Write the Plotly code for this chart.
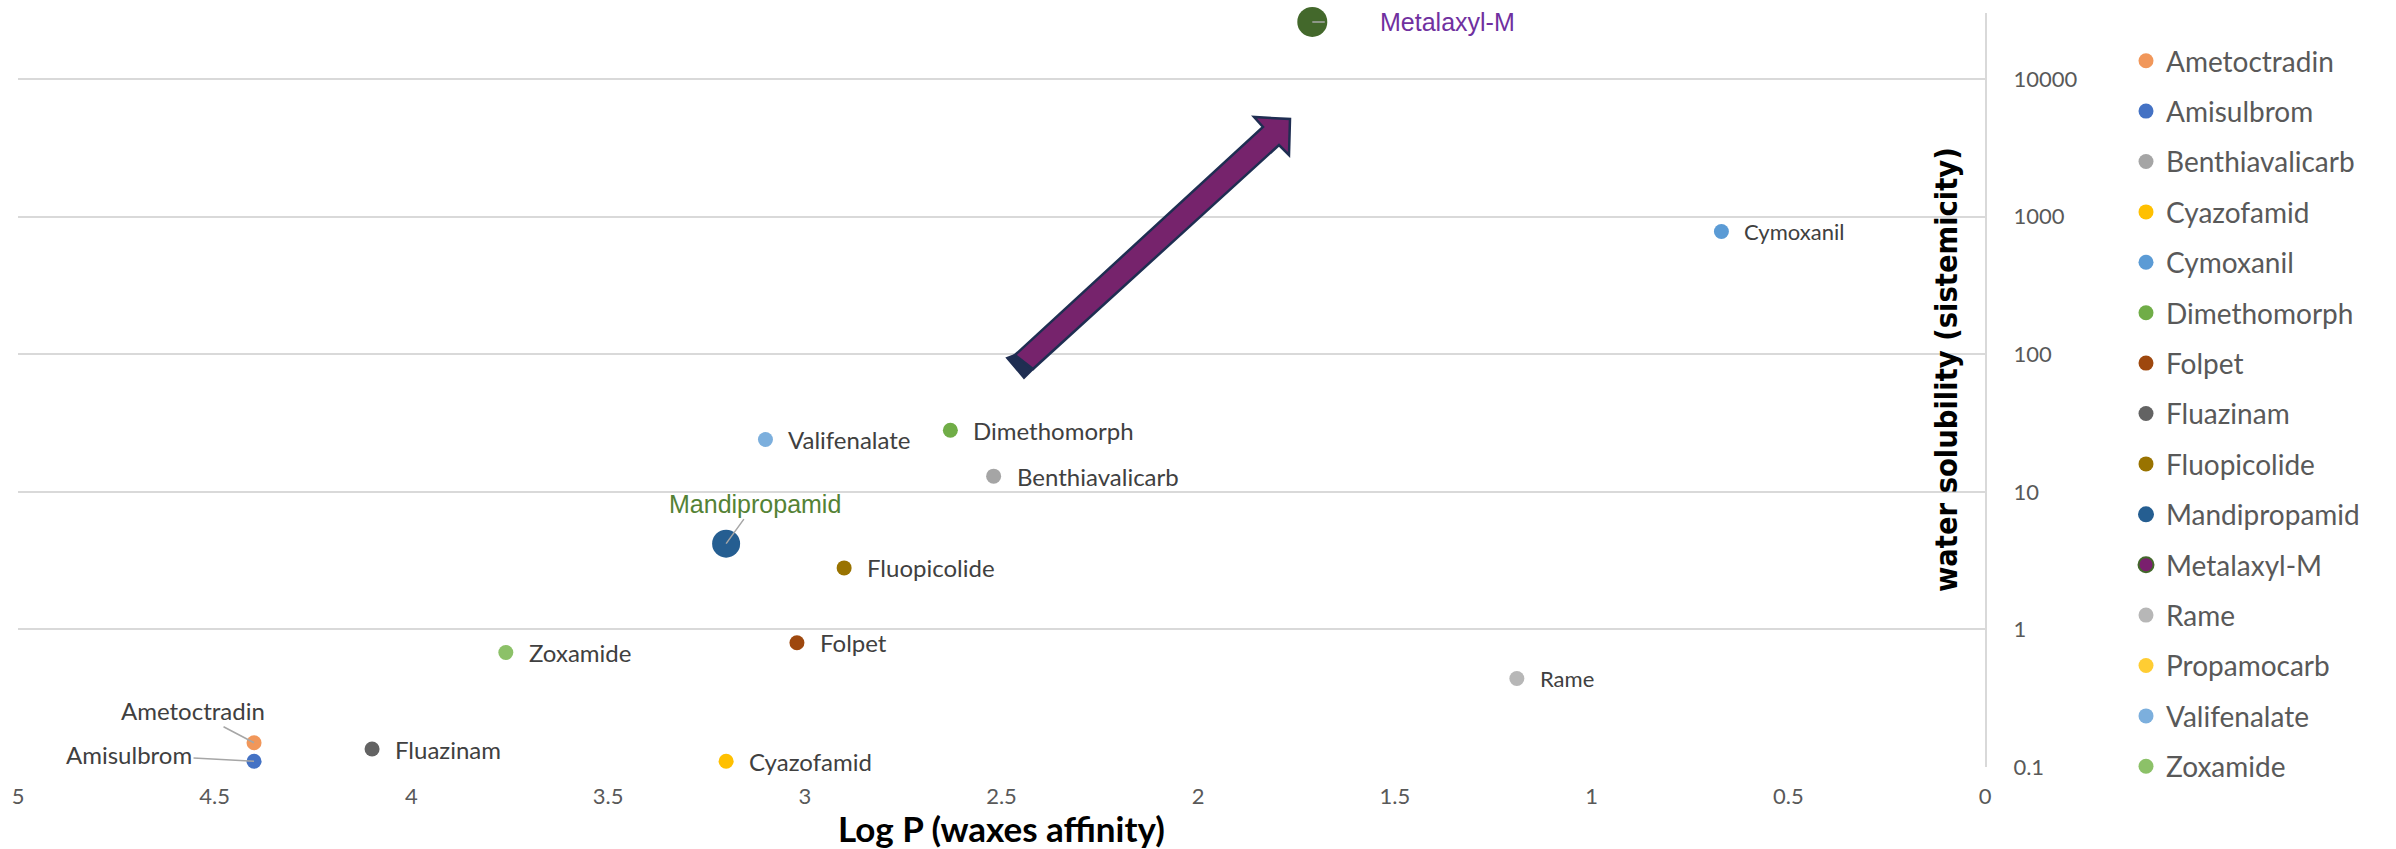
import numpy as np
import plotly.graph_objects as go

# ---------------- data ----------------
names = ["Ametoctradin", "Amisulbrom", "Benthiavalicarb", "Cyazofamid", "Cymoxanil",
         "Dimethomorph", "Folpet", "Fluazinam", "Fluopicolide", "Mandipropamid",
         "Metalaxyl-M", "Rame", "Propamocarb", "Valifenalate", "Zoxamide"]
log_p = [4.40, 4.40, 2.52, 3.20, 0.67, 2.63, 3.02, 4.10, 2.90, 3.20, 1.71, 1.19, -1.30, 3.10, 3.76]
water_sol = [0.15, 0.11, 13.0, 0.11, 780.0, 28.0, 0.80, 0.135, 2.8, 4.2, 26000.0, 0.44, 900000.0, 24.0, 0.68]
colors = ["#F1975A", "#4472C4", "#A5A5A5", "#FFC000", "#5B9BD5", "#70AD47", "#9E480E",
          "#636363", "#997300", "#255E91", "#7A1F6E", "#B7B7B7", "#FFCD33", "#7CAFDD", "#8CC168"]

y_tickvals = [0.1, 1, 10, 100, 1000, 10000]
y_ticktext = ["0.1", "1", "10", "100", "1000", "10000"]
x_tickvals = [5, 4.5, 4, 3.5, 3, 2.5, 2, 1.5, 1, 0.5, 0]
x_ticktext = ["5", "4.5", "4", "3.5", "3", "2.5", "2", "1.5", "1", "0.5", "0"]

FONT = "Lato"
W, H = 2396, 849
ML, MR, MT, MB = 18, 411, 13, 82
PW, PH = W - ML - MR, H - MT - MB

def px2paper(px, py):
    return (px - ML) / PW, (H - MB - py) / PH

fig = go.Figure()

big = {"Mandipropamid": 28}
for i, n in enumerate(names):
    if n == "Metalaxyl-M":
        # legend entry (purple with green outline)
        fig.add_trace(go.Scatter(x=[None], y=[None], mode="markers", name=n,
                                 legendgroup=n,
                                 marker=dict(size=15, color=colors[i],
                                             line=dict(color="#43682B", width=2))))
        continue
    fig.add_trace(go.Scatter(x=[log_p[i]], y=[water_sol[i]], mode="markers", name=n,
                             legendgroup=n, cliponaxis=(n == "Propamocarb"),
                             marker=dict(size=big.get(n, 15), color=colors[i], line=dict(width=0))))

# visible Metalaxyl-M point (dark green, large)
mi = names.index("Metalaxyl-M")
fig.add_trace(go.Scatter(x=[log_p[mi]], y=[water_sol[mi]], mode="markers", showlegend=False,
                         legendgroup="Metalaxyl-M", cliponaxis=False,
                         marker=dict(size=30, color="#43682B", line=dict(width=0))))

annotations = []
small_lbl = {"Cymoxanil": 22, "Rame": 22}
for i, n in enumerate(names):
    if n in ("Propamocarb",):
        continue
    xv, yv = log_p[i], float(np.log10(water_sol[i]))
    if n == "Ametoctradin":
        annotations.append(dict(x=xv, y=yv, xref="x", yref="y", text=n, showarrow=True,
                                ax=-61, ay=-32, arrowhead=0, arrowwidth=1.5, arrowcolor="#A6A6A6",
                                standoff=0, font=dict(family=FONT, size=24, color="#404040")))
    elif n == "Amisulbrom":
        annotations.append(dict(x=xv, y=yv, xref="x", yref="y", text=n, showarrow=True,
                                ax=-125, ay=-7, arrowhead=0, arrowwidth=1.5, arrowcolor="#A6A6A6",
                                standoff=0, font=dict(family=FONT, size=24, color="#404040")))
    elif n == "Mandipropamid":
        annotations.append(dict(x=xv, y=yv, xref="x", yref="y", text=n, showarrow=True,
                                ax=29, ay=-40, arrowhead=0, arrowwidth=1.5, arrowcolor="#A6A6A6",
                                standoff=0, font=dict(family="Liberation Sans", size=25, color="#548235")))
    elif n == "Metalaxyl-M":
        annotations.append(dict(x=xv, y=yv, xref="x", yref="y", text="", showarrow=True,
                                ax=14, ay=0, arrowhead=0, arrowwidth=1.5, arrowcolor="#A6A6A6",
                                standoff=0))
        annotations.append(dict(x=xv, y=yv, xref="x", yref="y", text=n, showarrow=False,
                                xanchor="left", xshift=66,
                                font=dict(family="Liberation Sans", size=25, color="#7030A0")))
    else:
        annotations.append(dict(x=xv, y=yv, xref="x", yref="y", text=n, showarrow=False,
                                xanchor="left", xshift=21,
                                font=dict(family=FONT, size=small_lbl.get(n, 24), color="#404040")))

# axis titles
tx, ty = px2paper(1001, 828)
annotations.append(dict(x=tx, y=ty, xref="paper", yref="paper", text="<b>Log P (waxes affinity)</b>",
                        showarrow=False, xanchor="center", yanchor="middle",
                        font=dict(family=FONT, size=35, color="#000000")))
tx, ty = px2paper(1946, 370)
annotations.append(dict(x=tx, y=ty, xref="paper", yref="paper", text="<b>water solubility (sistemicity)</b>",
                        showarrow=False, xanchor="center", yanchor="middle", textangle=-90,
                        font=dict(family="DejaVu Sans Condensed", size=30.5, color="#000000")))

# decorative block arrow (paper coordinates)
def path(pts):
    s = ""
    for k, (a, b) in enumerate(pts):
        xp, yp = px2paper(a, b)
        s += ("M" if k == 0 else "L") + f"{xp:.5f},{yp:.5f} "
    return s + "Z"

arrow_main = [(1015, 355), (1263, 127), (1254, 117), (1290, 119), (1289, 155), (1279, 145), (1033, 369)]
arrow_side = [(1007, 358), (1015, 355), (1033, 369), (1024, 378)]
shapes = [
    dict(type="path", xref="paper", yref="paper", path=path(arrow_side),
         fillcolor="#1F2E52", line=dict(color="#1F2E52", width=2)),
    dict(type="path", xref="paper", yref="paper", path=path(arrow_main),
         fillcolor="#76236C", line=dict(color="#1F2E52", width=2.5)),
]

lx, ly = px2paper(2126, 36)
fig.update_layout(
    width=W, height=H, autosize=False,
    margin=dict(l=ML, r=MR, t=MT, b=MB, pad=0),
    plot_bgcolor="white", paper_bgcolor="white",
    font=dict(family=FONT, color="#595959"),
    xaxis=dict(range=[5, 0], tickvals=x_tickvals, ticktext=x_ticktext, showgrid=False,
               zeroline=False, showline=False, ticks="", ticklabelstandoff=14,
               tickfont=dict(family=FONT, size=22, color="#595959")),
    yaxis=dict(type="log", range=[-1, 4.48], side="right", tickvals=y_tickvals, ticktext=y_ticktext,
               showgrid=True, gridcolor="#D9D9D9", gridwidth=2, zeroline=False,
               showline=True, linecolor="#D9D9D9", linewidth=2, ticks="", ticklabelstandoff=22,
               tickfont=dict(family=FONT, size=22, color="#595959")),
    legend=dict(x=lx, y=ly, xanchor="left", yanchor="top", traceorder="grouped",
                tracegroupgap=11, itemsizing="trace", bgcolor="rgba(0,0,0,0)", maxheight=3000,
                font=dict(family=FONT, size=28, color="#595959")),
    annotations=annotations,
    shapes=shapes,
)

fig.write_html("out.html", config={"displayModeBar": False},
               post_script="document.body.style.margin='0';document.body.style.overflow='hidden';")
